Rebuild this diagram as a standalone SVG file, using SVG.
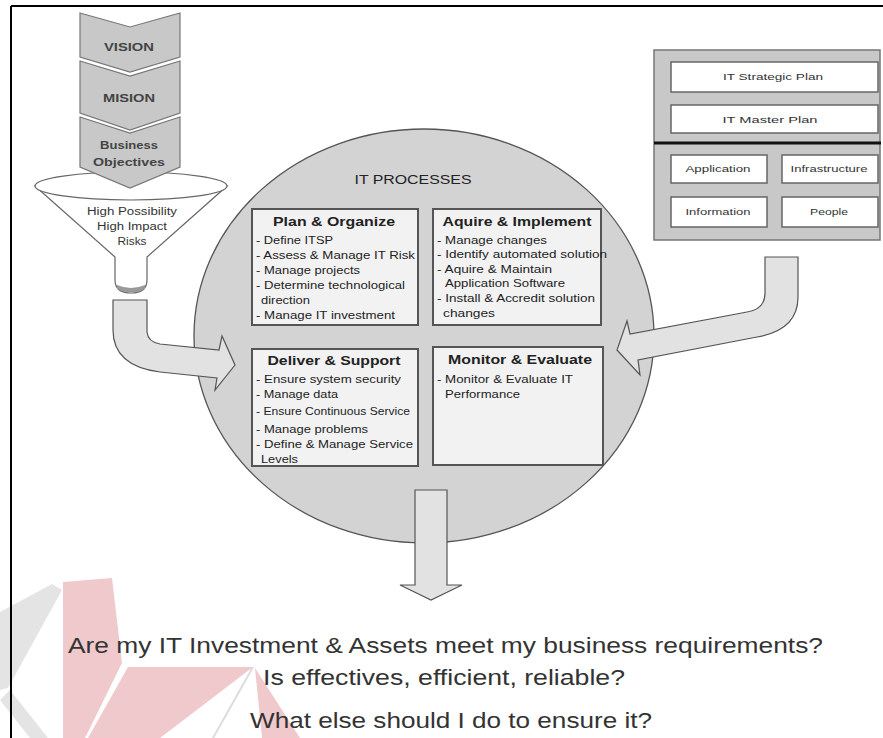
<svg xmlns="http://www.w3.org/2000/svg" width="883" height="738" viewBox="0 0 883 738">
<style>
text{font-family:"Liberation Sans",Arial,sans-serif;fill:#222}
.chev{fill:#c8c8c8;stroke:#777;stroke-width:1.2}
.chevt{font-size:11px;font-weight:bold;fill:#444;text-anchor:middle}
.fun{fill:#fff;stroke:#666;stroke-width:1.2}
.fnt{font-size:10px;text-anchor:middle;fill:#333}
.arrow{fill:#e2e2e2;stroke:#555;stroke-width:1.2}
.box{fill:#f2f2f2;stroke:#555;stroke-width:2}
.bt{font-size:12.5px;font-weight:bold;text-anchor:middle}
.it{font-size:10.5px;fill:#222}
.wbox{fill:#fff;stroke:#666;stroke-width:1.5}
.pt{font-size:9.5px;text-anchor:middle;fill:#333}
.q{font-size:22px;fill:#333}
.wm-p{fill:#f0c9cd}
.wm-g{fill:#e4e4e4}
</style>

<rect x="0" y="0" width="883" height="738" fill="#fff"/>

<g id="watermark">
  <polygon class="wm-g" points="0,612 52,584 62,590 8,688 0,690"/>
  <polygon class="wm-g" points="0,700 10,690 48,738 30,738"/>
  <polygon class="wm-p" points="63,582 112,578 122,663 85,738 63,738"/>
  <polygon class="wm-p" points="128,667 253,667 160,738 88,738"/>
  <polygon class="wm-p" points="255,668 300,738 262,738"/>
  <line x1="253" y1="667" x2="213" y2="738" stroke="#ddd" stroke-width="2"/>
</g>

<g id="frame">
  <line x1="11" y1="6" x2="883" y2="6" stroke="#000" stroke-width="2"/>
  <line x1="11" y1="6" x2="11" y2="738" stroke="#000" stroke-width="2"/>
</g>

<g id="funnel">
  <path class="fun" d="M35,186 L115,257 L115,280 Q115,293 131,293 Q147,293 147,280 L147,257 L227,186 Z"/>
  <path d="M117,285 Q131,291 145,285 L145,289 Q131,296 117,289 Z" fill="#999"/>
  <ellipse class="fun" cx="131" cy="186" rx="96" ry="14"/>
  <text class="fnt" x="132" y="215" textLength="90" lengthAdjust="spacingAndGlyphs">High Possibility</text>
  <text class="fnt" x="132" y="230" textLength="70" lengthAdjust="spacingAndGlyphs">High Impact</text>
  <text class="fnt" x="132" y="245" textLength="29" lengthAdjust="spacingAndGlyphs">Risks</text>
</g>

<g id="vision">
  <polygon class="chev" points="80,13 130,27 180,13 180,57 130,72 80,57"/>
  <text class="chevt" x="129" y="51" textLength="50" lengthAdjust="spacingAndGlyphs">VISION</text>
</g>
<g id="mision">
  <polygon class="chev" points="80,61 130,76 180,61 180,113 130,130 80,113"/>
  <text class="chevt" x="129" y="102" textLength="52" lengthAdjust="spacingAndGlyphs">MISION</text>
</g>
<g id="business-objectives">
  <polygon class="chev" points="80,117 130,133 180,117 180,167 130,188 80,167"/>
  <text class="chevt" x="129" y="149" textLength="58" lengthAdjust="spacingAndGlyphs">Business</text>
  <text class="chevt" x="129" y="166" textLength="72" lengthAdjust="spacingAndGlyphs">Objectives</text>
</g>

<g id="it-processes">
  <ellipse cx="424" cy="336" rx="230" ry="207" fill="#d3d3d3" stroke="#555" stroke-width="1.3"/>
  <text x="413" y="184" font-size="12" text-anchor="middle" fill="#333" textLength="117" lengthAdjust="spacingAndGlyphs">IT PROCESSES</text>
</g>

<g id="connectors">
  <path class="arrow" d="M113,300 L147,300 L147,332 Q148,342 160,344 L219,350 L222,336 L235,365 L215,390 L217,378 L160,372 Q113,366 113,330 Z"/>
  <path class="arrow" d="M765,257 L798,257 L798,297 Q798,330 757,337 L638,360 L640,375 L617,350 L627,321 L630,334 L747,312 Q765,309 765,293 Z"/>
  <path class="arrow" d="M415,490 L447,490 L447,585 L462,585 L431,600 L400,585 L415,585 Z"/>
</g>

<g id="plan-organize">
  <rect class="box" x="252" y="209" width="166" height="116"/>
  <text class="bt" x="334" y="226" textLength="122" lengthAdjust="spacingAndGlyphs">Plan &amp; Organize</text>
  <text class="it" x="256" y="244" textLength="77" lengthAdjust="spacingAndGlyphs">- Define ITSP</text>
  <text class="it" x="256" y="259" textLength="159" lengthAdjust="spacingAndGlyphs">- Assess &amp; Manage IT Risk</text>
  <text class="it" x="256" y="274" textLength="104" lengthAdjust="spacingAndGlyphs">- Manage projects</text>
  <text class="it" x="256" y="289" textLength="149" lengthAdjust="spacingAndGlyphs">- Determine technological</text>
  <text class="it" x="261" y="304" textLength="49" lengthAdjust="spacingAndGlyphs">direction</text>
  <text class="it" x="256" y="319" textLength="139" lengthAdjust="spacingAndGlyphs">- Manage IT investment</text>
</g>

<g id="aquire-implement">
  <rect class="box" x="433" y="209" width="168" height="116"/>
  <text class="bt" x="517" y="226" textLength="149" lengthAdjust="spacingAndGlyphs">Aquire &amp; Implement</text>
  <text class="it" x="437" y="244" textLength="110" lengthAdjust="spacingAndGlyphs">- Manage changes</text>
  <text class="it" x="437" y="258" textLength="170" lengthAdjust="spacingAndGlyphs">- Identify automated solution</text>
  <text class="it" x="437" y="273" textLength="115" lengthAdjust="spacingAndGlyphs">- Aquire &amp; Maintain</text>
  <text class="it" x="445" y="287" textLength="120" lengthAdjust="spacingAndGlyphs">Application Software</text>
  <text class="it" x="437" y="302" textLength="158" lengthAdjust="spacingAndGlyphs">- Install &amp; Accredit solution</text>
  <text class="it" x="443" y="317" textLength="52" lengthAdjust="spacingAndGlyphs">changes</text>
</g>

<g id="deliver-support">
  <rect class="box" x="252" y="349" width="166" height="117"/>
  <text class="bt" x="334" y="365" textLength="133" lengthAdjust="spacingAndGlyphs">Deliver &amp; Support</text>
  <text class="it" x="256" y="383" textLength="145" lengthAdjust="spacingAndGlyphs">- Ensure system security</text>
  <text class="it" x="256" y="398" textLength="82" lengthAdjust="spacingAndGlyphs">- Manage data</text>
  <text class="it" x="256" y="415" textLength="154" lengthAdjust="spacingAndGlyphs">- Ensure Continuous Service</text>
  <text class="it" x="256" y="433" textLength="112" lengthAdjust="spacingAndGlyphs">- Manage problems</text>
  <text class="it" x="256" y="448" textLength="157" lengthAdjust="spacingAndGlyphs">- Define &amp; Manage Service</text>
  <text class="it" x="261" y="463" textLength="37" lengthAdjust="spacingAndGlyphs">Levels</text>
</g>

<g id="monitor-evaluate">
  <rect class="box" x="433" y="347" width="170" height="118"/>
  <text class="bt" x="520" y="364" textLength="144" lengthAdjust="spacingAndGlyphs">Monitor &amp; Evaluate</text>
  <text class="it" x="437" y="383" textLength="136" lengthAdjust="spacingAndGlyphs">- Monitor &amp; Evaluate IT</text>
  <text class="it" x="445" y="398" textLength="75" lengthAdjust="spacingAndGlyphs">Performance</text>
</g>

<g id="it-plan-panel">
  <rect x="654" y="50" width="226" height="190" fill="#c8c8c8" stroke="#777" stroke-width="1.5"/>
  <line x1="654" y1="143" x2="881" y2="143" stroke="#111" stroke-width="3"/>
</g>
<g id="it-strategic-plan">
  <rect class="wbox" x="671" y="62" width="207" height="30"/>
  <text class="pt" x="773" y="80" textLength="100" lengthAdjust="spacingAndGlyphs">IT Strategic Plan</text>
</g>
<g id="it-master-plan">
  <rect class="wbox" x="671" y="105" width="207" height="28"/>
  <text class="pt" x="770" y="123" textLength="95" lengthAdjust="spacingAndGlyphs">IT Master Plan</text>
</g>
<g id="application">
  <rect class="wbox" x="671" y="155" width="96" height="28"/>
  <text class="pt" x="718" y="172" textLength="65" lengthAdjust="spacingAndGlyphs">Application</text>
</g>
<g id="infrastructure">
  <rect class="wbox" x="782" y="155" width="96" height="28"/>
  <text class="pt" x="829" y="172" textLength="77" lengthAdjust="spacingAndGlyphs">Infrastructure</text>
</g>
<g id="information">
  <rect class="wbox" x="671" y="197" width="96" height="30"/>
  <text class="pt" x="718" y="215" textLength="65" lengthAdjust="spacingAndGlyphs">Information</text>
</g>
<g id="people">
  <rect class="wbox" x="782" y="197" width="96" height="30"/>
  <text class="pt" x="829" y="215" textLength="38" lengthAdjust="spacingAndGlyphs">People</text>
</g>

<g id="questions">
  <text class="q" x="68" y="653" textLength="755" lengthAdjust="spacingAndGlyphs">Are my IT Investment &amp; Assets meet my business requirements?</text>
  <text class="q" x="263" y="685" textLength="362" lengthAdjust="spacingAndGlyphs">Is effectives, efficient, reliable?</text>
  <text class="q" x="250" y="728" textLength="402" lengthAdjust="spacingAndGlyphs">What else should I do to ensure it?</text>
</g>
</svg>
